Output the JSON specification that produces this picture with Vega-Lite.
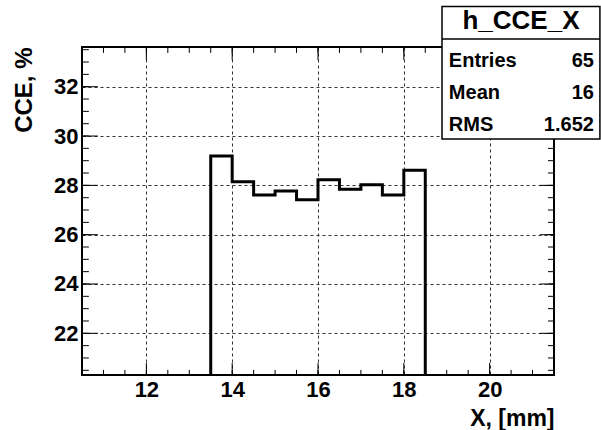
{
  "$schema": "https://vega.github.io/schema/vega-lite/v6.json",
  "width": 472,
  "height": 328,
  "autosize": "none",
  "padding": {"left": 82, "top": 47, "right": 47, "bottom": 55},
  "background": "white",
  "config": {
    "view": {"stroke": "black", "strokeWidth": 2},
    "font": "Liberation Sans",
    "axis": {"labelFont": "Liberation Sans", "labelFontWeight": "bold", "labelColor": "black", "titleFont": "Liberation Sans", "titleFontWeight": "bold", "titleColor": "black"}
  },
  "datasets": {
    "hist": [
      {"x": 10.5, "y": 0}, {"x": 11, "y": 0}, {"x": 11.5, "y": 0}, {"x": 12, "y": 0},
      {"x": 12.5, "y": 0}, {"x": 13, "y": 0}, {"x": 13.5, "y": 29.19}, {"x": 14, "y": 28.15},
      {"x": 14.5, "y": 27.61}, {"x": 15, "y": 27.77}, {"x": 15.5, "y": 27.42}, {"x": 16, "y": 28.23},
      {"x": 16.5, "y": 27.84}, {"x": 17, "y": 28.02}, {"x": 17.5, "y": 27.61}, {"x": 18, "y": 28.61},
      {"x": 18.5, "y": 0}, {"x": 19, "y": 0}, {"x": 19.5, "y": 0}, {"x": 20, "y": 0},
      {"x": 20.5, "y": 0}, {"x": 21, "y": 0}, {"x": 21.5, "y": 0}
    ],
    "xticks": [
      {"v": 11}, {"v": 11.5}, {"v": 12}, {"v": 12.5}, {"v": 13}, {"v": 13.5}, {"v": 14}, {"v": 14.5},
      {"v": 15}, {"v": 15.5}, {"v": 16}, {"v": 16.5}, {"v": 17}, {"v": 17.5}, {"v": 18}, {"v": 18.5},
      {"v": 19}, {"v": 19.5}, {"v": 20}, {"v": 20.5}, {"v": 21}
    ],
    "yticks": [
      {"v": 20.5}, {"v": 21}, {"v": 21.5}, {"v": 22}, {"v": 22.5}, {"v": 23}, {"v": 23.5}, {"v": 24},
      {"v": 24.5}, {"v": 25}, {"v": 25.5}, {"v": 26}, {"v": 26.5}, {"v": 27}, {"v": 27.5}, {"v": 28},
      {"v": 28.5}, {"v": 29}, {"v": 29.5}, {"v": 30}, {"v": 30.5}, {"v": 31}, {"v": 31.5}, {"v": 32},
      {"v": 32.5}, {"v": 33}, {"v": 33.5}
    ],
    "stats": [
      {"name": "Entries", "value": "65"},
      {"name": "Mean", "value": "16"},
      {"name": "RMS", "value": "1.652"}
    ],
    "title": [{"text": "h_CCE_X"}]
  },
  "resolve": {"axis": {"x": "independent", "y": "independent"}},
  "layer": [
    {
      "data": {"name": "hist"},
      "mark": {"type": "line", "interpolate": "step-after", "color": "black", "strokeWidth": 3, "clip": true, "strokeJoin": "miter", "strokeCap": "square"},
      "encoding": {
        "x": {"field": "x", "type": "quantitative", "scale": {"domain": [10.5, 21.5], "nice": false, "zero": false},
          "axis": {"orient": "bottom", "values": [12, 14, 16, 18, 20], "format": "d", "ticks": false, "domain": false,
            "grid": true, "gridDash": [3, 3], "gridColor": "#333333", "gridWidth": 1,
            "labelFontSize": 22, "labelPadding": 4, "labelFlush": false, "labelOverlap": false,
            "title": "X, [mm]", "titleFontSize": 23, "titleAnchor": "end", "titlePadding": 7}},
        "y": {"field": "y", "type": "quantitative", "scale": {"domain": [20.31, 33.61], "nice": false, "zero": false},
          "axis": {"orient": "left", "values": [22, 24, 26, 28, 30, 32], "format": "d", "ticks": false, "domain": false,
            "grid": true, "gridDash": [3, 3], "gridColor": "#333333", "gridWidth": 1,
            "labelFontSize": 22, "labelPadding": 4, "labelFlush": false, "labelOverlap": false,
            "title": "CCE, %", "titleFontSize": 24, "titleAnchor": "end", "titlePadding": 17}}
      }
    },
    {
      "data": {"name": "xticks"},
      "mark": {"type": "rule", "color": "black", "strokeWidth": 1},
      "encoding": {
        "x": {"field": "v", "type": "quantitative", "axis": null},
        "y": {"datum": 20.31, "type": "quantitative", "axis": null},
        "y2": {"datum": 20.52}
      }
    },
    {
      "data": {"name": "xticks"},
      "transform": [{"filter": "datum.v % 2 === 0"}],
      "mark": {"type": "rule", "color": "black", "strokeWidth": 1},
      "encoding": {
        "x": {"field": "v", "type": "quantitative", "axis": null},
        "y": {"datum": 20.31, "type": "quantitative", "axis": null},
        "y2": {"datum": 20.8}
      }
    },
    {
      "data": {"name": "xticks"},
      "mark": {"type": "rule", "color": "black", "strokeWidth": 1},
      "encoding": {
        "x": {"field": "v", "type": "quantitative", "axis": null},
        "y": {"datum": 33.61, "type": "quantitative", "axis": null},
        "y2": {"datum": 33.37}
      }
    },
    {
      "data": {"name": "xticks"},
      "transform": [{"filter": "datum.v % 2 === 0"}],
      "mark": {"type": "rule", "color": "black", "strokeWidth": 1},
      "encoding": {
        "x": {"field": "v", "type": "quantitative", "axis": null},
        "y": {"datum": 33.61, "type": "quantitative", "axis": null},
        "y2": {"datum": 33.08}
      }
    },
    {
      "data": {"name": "yticks"},
      "mark": {"type": "rule", "color": "black", "strokeWidth": 1},
      "encoding": {
        "y": {"field": "v", "type": "quantitative", "axis": null},
        "x": {"datum": 10.5, "type": "quantitative", "axis": null},
        "x2": {"datum": 10.66}
      }
    },
    {
      "data": {"name": "yticks"},
      "transform": [{"filter": "datum.v % 2 === 0"}],
      "mark": {"type": "rule", "color": "black", "strokeWidth": 1},
      "encoding": {
        "y": {"field": "v", "type": "quantitative", "axis": null},
        "x": {"datum": 10.5, "type": "quantitative", "axis": null},
        "x2": {"datum": 10.87}
      }
    },
    {
      "data": {"name": "yticks"},
      "mark": {"type": "rule", "color": "black", "strokeWidth": 1},
      "encoding": {
        "y": {"field": "v", "type": "quantitative", "axis": null},
        "x": {"datum": 21.5, "type": "quantitative", "axis": null},
        "x2": {"datum": 21.36}
      }
    },
    {
      "data": {"name": "yticks"},
      "transform": [{"filter": "datum.v % 2 === 0"}],
      "mark": {"type": "rule", "color": "black", "strokeWidth": 1},
      "encoding": {
        "y": {"field": "v", "type": "quantitative", "axis": null},
        "x": {"datum": 21.5, "type": "quantitative", "axis": null},
        "x2": {"datum": 21.17}
      }
    },
    {
      "data": {"name": "title"},
      "mark": {"type": "rect", "fill": "white", "stroke": "black", "strokeWidth": 1.5, "clip": false},
      "encoding": {
        "x": {"datum": 18.89, "type": "quantitative", "axis": null},
        "x2": {"datum": 22.57},
        "y": {"datum": 35.25, "type": "quantitative", "axis": null},
        "y2": {"datum": 29.88}
      }
    },
    {
      "data": {"name": "title"},
      "mark": {"type": "rule", "stroke": "black", "strokeWidth": 1.5, "clip": false},
      "encoding": {
        "x": {"datum": 18.89, "type": "quantitative", "axis": null},
        "x2": {"datum": 22.57},
        "y": {"datum": 33.93, "type": "quantitative", "axis": null}
      }
    },
    {
      "data": {"name": "title"},
      "mark": {"type": "text", "font": "Liberation Sans", "fontWeight": "bold", "fontSize": 26, "align": "center", "baseline": "alphabetic", "color": "black", "clip": false},
      "encoding": {
        "x": {"datum": 20.73, "type": "quantitative", "axis": null},
        "y": {"datum": 34.33, "type": "quantitative", "axis": null},
        "text": {"field": "text"}
      }
    },
    {
      "data": {"name": "stats"},
      "mark": {"type": "text", "font": "Liberation Sans", "fontWeight": "bold", "fontSize": 20, "align": "left", "baseline": "alphabetic", "color": "black", "clip": false},
      "encoding": {
        "x": {"datum": 19.05, "type": "quantitative", "axis": null},
        "y": {"datum": 32.81, "type": "quantitative", "axis": null},
        "yOffset": {"field": "name", "type": "nominal", "scale": {"type": "point", "domain": ["Entries", "Mean", "RMS"], "range": [0, 64.4], "padding": 0}},
        "text": {"field": "name"}
      }
    },
    {
      "data": {"name": "stats"},
      "mark": {"type": "text", "font": "Liberation Sans", "fontWeight": "bold", "fontSize": 20, "align": "right", "baseline": "alphabetic", "color": "black", "clip": false},
      "encoding": {
        "x": {"datum": 22.43, "type": "quantitative", "axis": null},
        "y": {"datum": 32.81, "type": "quantitative", "axis": null},
        "yOffset": {"field": "name", "type": "nominal", "scale": {"type": "point", "domain": ["Entries", "Mean", "RMS"], "range": [0, 64.4], "padding": 0}},
        "text": {"field": "value"}
      }
    }
  ]
}
